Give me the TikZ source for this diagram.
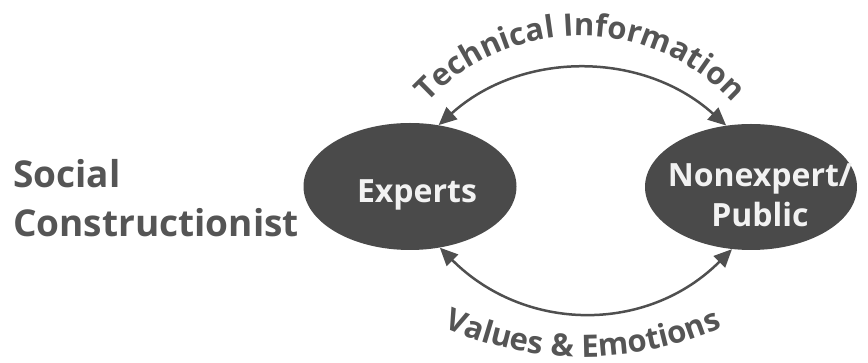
\documentclass[tikz,border=0pt]{standalone}
\usepackage{fontspec}
\setmainfont{Open Sans}
\usetikzlibrary{arrows.meta,shapes.geometric,decorations.text}

\definecolor{blobgray}{HTML}{4A4A4A}
\definecolor{inktext}{HTML}{555555}
\definecolor{linegray}{HTML}{4F4F4F}
\definecolor{paletext}{HTML}{F2F2F2}

\newcommand{\arcfont}{\bfseries\fontsize{31}{36}\selectfont}

\tikzset{
  blob/.style={ellipse, fill=blobgray, draw=none, inner sep=0pt},
  blobtext/.style={text=paletext, font=\bfseries\fontsize{32}{40}\selectfont, align=center, inner sep=0pt},
  flow/.style={draw=linegray, line width=2.5pt,
    {Triangle[length=18pt,width=16pt]}-{Triangle[length=18pt,width=16pt]}},
  arclabel/.style={decorate, decoration={text along path, text align=center, text color=inktext}}
}

\begin{document}
\begin{tikzpicture}[x=1pt,y=1pt]
  \useasboundingbox (0,0) rectangle (868,363);

  % side heading
  \node[anchor=base west, align=left, text=inktext, inner sep=0pt,
        font=\bfseries\fontsize{37}{49}\selectfont] (head) at (13,126)
        {Social\\Constructionist};

  % the two groups
  \node[blob, minimum width=213pt, minimum height=127pt] (ex) at (410,176.5) {};
  \node[blob, minimum width=212pt, minimum height=126pt] (nx) at (751,176) {};
  \node[blobtext, anchor=base] (exlabel) at (417,160) {Experts};
  \node[blobtext, anchor=base] (nxlabel) at (760,136) {Nonexpert/\\Public};

  % two-way exchanges
  \draw[flow] (ex.65) .. controls +(42:112) and +(138:112) .. (nx.112);
  \draw[flow] (ex.-64) .. controls +(-45:120) and +(-135:120) .. (nx.-107);

  % curved captions
  \path[arclabel, decoration={text={|\arcfont|Technical Information}}]
    ([shift={(150:208)}]580,119) arc[start angle=150, end angle=30, radius=208];
  \path[arclabel, decoration={text={|\arcfont|Values {\&} Emotions}}]
    ([shift={(238:340)}]583,346) arc[start angle=238, end angle=302, radius=340];
\end{tikzpicture}
\end{document}
